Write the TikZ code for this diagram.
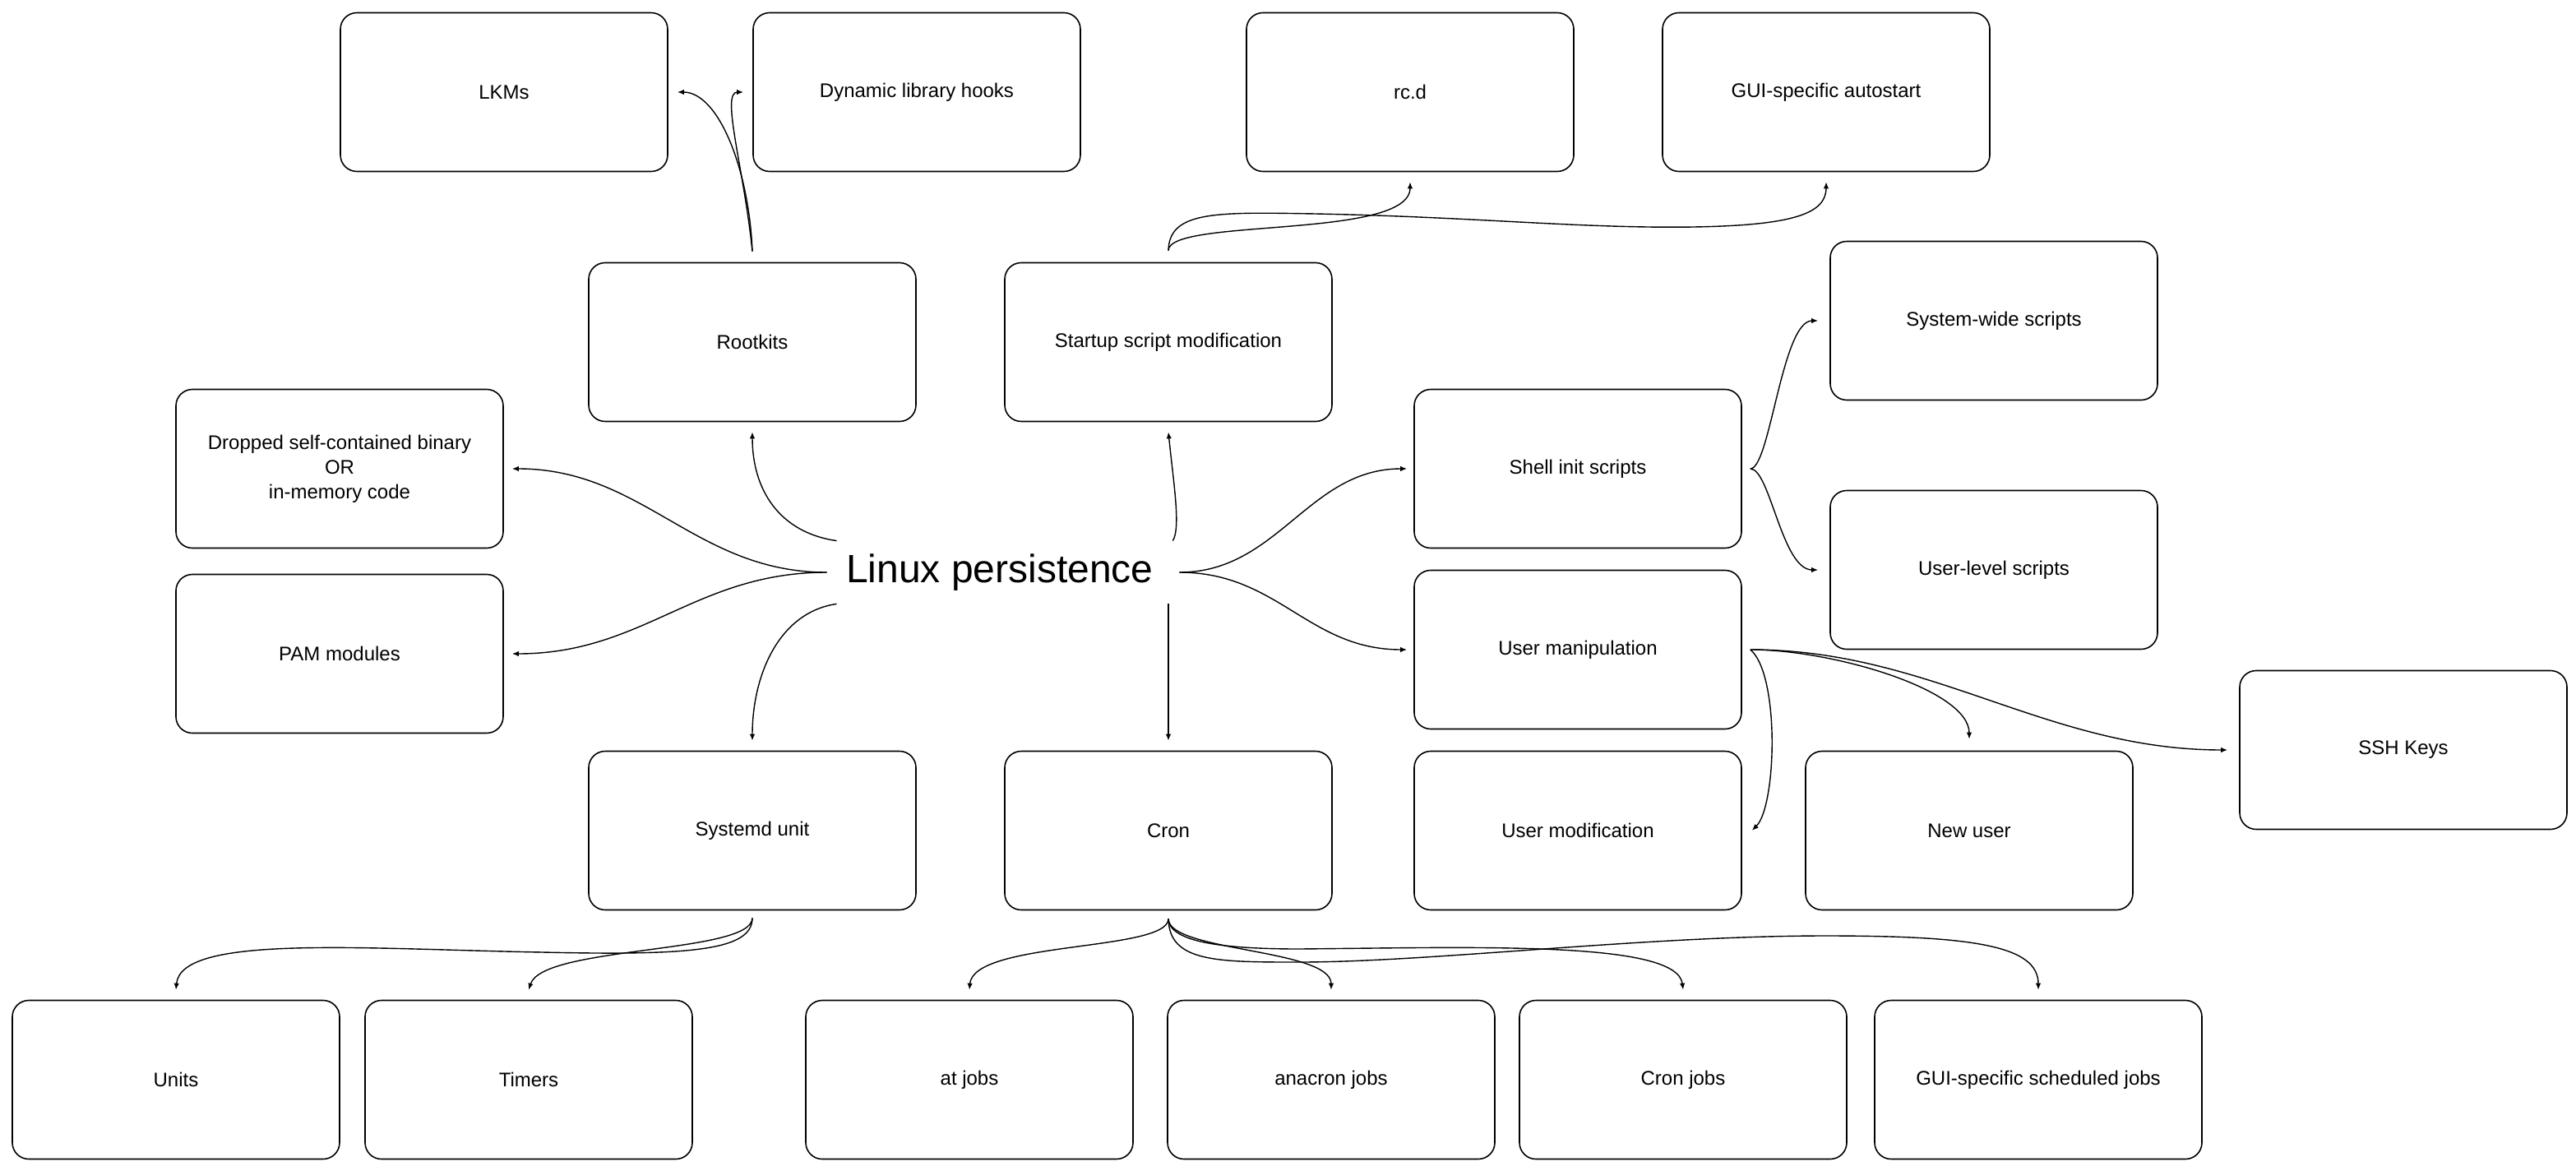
\documentclass[tikz,border=0pt]{standalone}
\usepackage{fontspec}
\setmainfont{Liberation Sans}
\usetikzlibrary{arrows.meta,calc}
\begin{document}
\begin{tikzpicture}[x=1pt,y=-1pt,
  box/.style={draw, line width=0.8pt, rounded corners=10pt, minimum width=199pt, minimum height=96.5pt, inner sep=0pt, align=center, font=\fontsize{12}{15}\selectfont},
  conn/.style={line width=0.7pt, -{Latex[length=4pt,width=3.2pt]}}]
\useasboundingbox (0,0) rectangle (1566.5,712);
\fill[white] (0,0) rectangle (1566.5,712);

\node[box] (lkm) at (306.5,56) {LKMs};
\node[box] (dyn) at (557.5,56) {Dynamic library hooks};
\node[box] (rcd) at (857.5,56) {rc.d};
\node[box] (guiauto) at (1110.5,56) {GUI-specific autostart};
\node[box] (rootkits) at (457.5,208) {Rootkits};
\node[box] (startup) at (710.5,208) {Startup script modification};
\node[box] (syswide) at (1212.5,195) {System-wide scripts};
\node[box] (dropped) at (206.5,285) {Dropped self-contained binary\\OR\\in-memory code};
\node[box] (shell) at (959.5,285) {Shell init scripts};
\node[box] (userlevel) at (1212.5,346.5) {User-level scripts};
\node[box] (pam) at (206.5,397.5) {PAM modules};
\node[box] (usermanip) at (959.5,395) {User manipulation};
\node[box] (ssh) at (1461.5,456) {SSH Keys};
\node[box] (systemd) at (457.5,505) {Systemd unit};
\node[box] (cron) at (710.5,505) {Cron};
\node[box] (usermod) at (959.5,505) {User modification};
\node[box] (newuser) at (1197.5,505) {New user};
\node[box] (units) at (107,656.5) {Units};
\node[box] (timers) at (321.5,656.5) {Timers};
\node[box] (atjobs) at (589.5,656.5) {at jobs};
\node[box] (anacron) at (809.5,656.5) {anacron jobs};
\node[box] (cronjobs) at (1023.5,656.5) {Cron jobs};
\node[box] (guisched) at (1239.5,656.5) {GUI-specific scheduled jobs};

\node[minimum width=210pt, minimum height=38pt, inner sep=0pt, font=\fontsize{24}{28}\selectfont] (title) at (608,348) {Linux persistence};

% from title
\draw[conn] ([xshift=6pt]title.north west) .. controls +(-35,-5) and +(0,35) .. ([yshift=-6pt]rootkits.south);
\draw[conn] (title.north east) .. controls +(5,-8) and +(3,30) .. ([yshift=-6pt]startup.south);
\draw[conn] (title.west) .. controls +(-80,0) and +(80,0) .. ([xshift=5pt]dropped.east);
\draw[conn] (title.west) .. controls +(-80,0) and +(80,0) .. ([xshift=5pt]pam.east);
\draw[conn] ([xshift=6pt]title.south west) .. controls +(-35,5) and +(0,-40) .. ([yshift=6pt]systemd.north);
\draw[conn] (cron.north |- title.south) -- ([yshift=6pt]cron.north);
\draw[conn] ([xshift=4pt]title.east) .. controls +(60,0) and +(-60,0) .. ([xshift=-4pt]shell.west);
\draw[conn] ([xshift=4pt]title.east) .. controls +(60,0) and +(-60,0) .. ([xshift=-4pt]usermanip.west);

% rootkits
\draw[conn] ([yshift=6.5pt]rootkits.north) .. controls +(-2,-50) and +(25,0) .. ([xshift=5.5pt]lkm.east);
\draw[conn] ([yshift=6.5pt]rootkits.north) .. controls +(-5,-50) and +(-14,0) .. ([xshift=-5.5pt]dyn.west);

% startup
\draw[conn] ([yshift=7pt]startup.north) .. controls +(0,-20) and +(0,35) .. ([yshift=-6pt]rcd.south);
\draw[conn] ([yshift=7pt]startup.north) .. controls (711,128) and (740,129) .. (800,130) .. controls (900,132) and (960,139) .. (1030,138) .. controls (1090,137) and (1110.5,130) .. ([yshift=-6pt]guiauto.south);

% shell
\draw[conn] ([xshift=5pt]shell.east) .. controls +(12,0) and +(-22,0) .. ([xshift=-7pt]syswide.west);
\draw[conn] ([xshift=5pt]shell.east) .. controls +(12,0) and +(-22,0) .. ([xshift=-7pt]userlevel.west);

% user manipulation
\draw[conn] ([xshift=5pt]usermanip.east) .. controls +(18,15) and +(15,-15) .. ([xshift=6pt]usermod.east);
\draw[conn] ([xshift=5pt]usermanip.east) .. controls +(50,0) and +(0,-30) .. ([yshift=7pt]newuser.north);
\draw[conn] ([xshift=5pt]usermanip.east) .. controls +(110,0) and +(-110,0) .. ([xshift=-7pt]ssh.west);

% systemd
\draw[conn] ([yshift=-4.5pt]systemd.south) .. controls (457.5,578) and (420,581) .. (330,579) .. controls (220,577) and (110,568) .. ([yshift=6pt]units.north);
\draw[conn] ([yshift=-4.5pt]systemd.south) .. controls (457.5,580) and (330,575) .. ([yshift=6pt]timers.north);

% cron
\draw[conn] ([yshift=-5pt]cron.south) .. controls +(0,20) and (592,572) .. ([yshift=6pt]atjobs.north);
\draw[conn] ([yshift=-5pt]cron.south) .. controls +(0,20) and +(0,-25) .. ([yshift=6pt]anacron.north);
\draw[conn] ([yshift=-5pt]cron.south) .. controls (711,572) and (740,577) .. (790,577) .. controls (900,576) and (1020,572) .. ([yshift=6pt]cronjobs.north);
\draw[conn] ([yshift=-5pt]cron.south) .. controls (711,585) and (740,585) .. (790,585) .. controls (870,585) and (1000,569) .. (1110,569) .. controls (1200,569) and (1239.5,575) .. ([yshift=6pt]guisched.north);
\end{tikzpicture}
\end{document}
